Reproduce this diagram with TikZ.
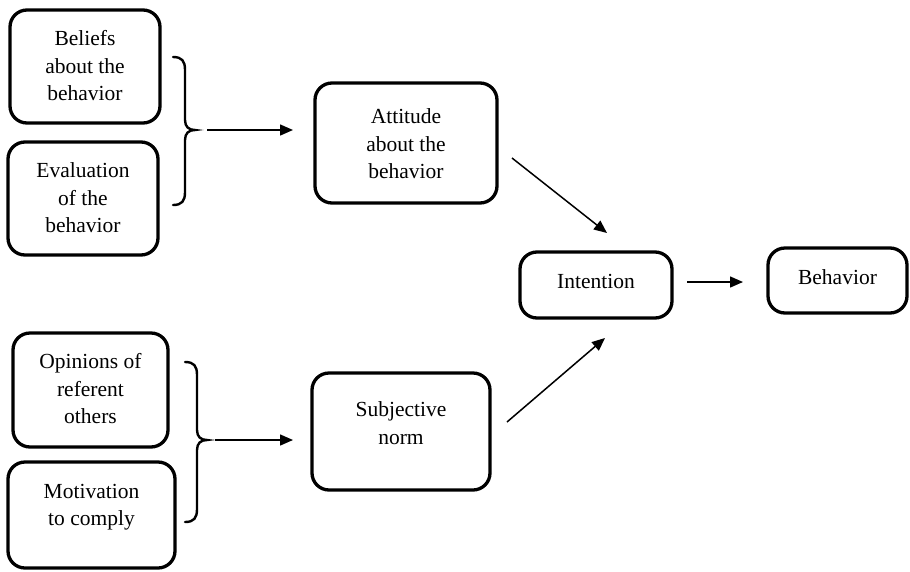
\documentclass[tikz,border=0pt]{standalone}
\usepackage{fontspec}
\setmainfont{Liberation Serif}
\usetikzlibrary{arrows.meta}
\begin{document}
\begin{tikzpicture}[x=1pt,y=-1pt,
  box/.style={draw,line width=3.3pt,rounded corners=17pt,inner sep=0pt},
  lbl/.style={align=center,inner sep=0pt,font=\fontsize{21.5}{27.5}\selectfont},
  conn/.style={line width=1.5pt,-{Triangle[length=13pt,width=11pt]}},
  brc/.style={line width=2.4pt,line cap=round}]
\useasboundingbox (0,0) rectangle (910,571);
% boxes
\node[box,minimum width=150pt,minimum height=113pt] (bel) at (85,66.5) {};
\node[lbl] (belt) at (85,66) {Beliefs\\about the\\behavior};
\node[box,minimum width=150pt,minimum height=113pt] (eva) at (83,198.5) {};
\node[lbl] (evat) at (83,198) {Evaluation\\of the\\behavior};
\node[box,minimum width=182pt,minimum height=120pt] (att) at (406,143) {};
\node[lbl] (attt) at (406,144) {Attitude\\about the\\behavior};
\node[box,minimum width=152pt,minimum height=66pt] (int) at (596,285) {};
\node[lbl] (intt) at (596,281) {Intention};
\node[box,minimum width=139pt,minimum height=65pt] (beh) at (837.5,280.5) {};
\node[lbl] (beht) at (837.5,277) {Behavior};
\node[box,minimum width=155pt,minimum height=114pt] (opi) at (90.5,390) {};
\node[lbl] (opit) at (90.5,389) {Opinions of\\referent\\others};
\node[box,minimum width=167pt,minimum height=106pt] (mot) at (91.5,515) {};
\node[lbl] (mott) at (91.5,507) {Motivation\\to comply};
\node[box,minimum width=178pt,minimum height=117pt] (sub) at (401,431.5) {};
\node[lbl] (subt) at (401,423) {Subjective\\norm};
% braces
\draw[brc] (173,57) .. controls (182,57) and (185,61) .. (185,70) -- (185,120)
  .. controls (185,127) and (189,130) .. (195,130)
  .. controls (189,130) and (185,133) .. (185,140) -- (185,192)
  .. controls (185,201) and (182,205) .. (173,205);
\draw[brc] (185,362) .. controls (194,362) and (197,366) .. (197,375) -- (197,430)
  .. controls (197,437) and (201,440) .. (207,440)
  .. controls (201,440) and (197,443) .. (197,450) -- (197,509)
  .. controls (197,518) and (194,522) .. (185,522);
% connector end points
\coordinate (a1s) at (207,130);
\coordinate (a1e) at (293,130);
\coordinate (a2s) at (215,440);
\coordinate (a2e) at (293,440);
\coordinate (a3s) at (512,158);
\coordinate (a3e) at (607,233);
\coordinate (a4s) at (507,422);
\coordinate (a4e) at (605,338);
\coordinate (a5s) at (687,282);
\coordinate (a5e) at (743,282);
\draw[conn] (a1s) -- (a1e);
\draw[conn] (a2s) -- (a2e);
\draw[conn] (a3s) -- (a3e);
\draw[conn] (a4s) -- (a4e);
\draw[conn] (a5s) -- (a5e);
\end{tikzpicture}
\end{document}
